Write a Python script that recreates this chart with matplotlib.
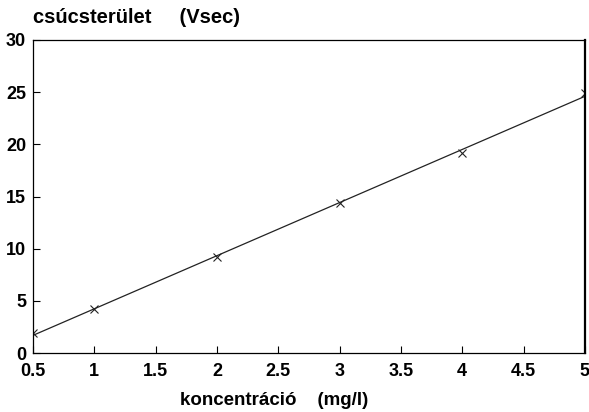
import matplotlib
matplotlib.use("Agg")
import matplotlib.pyplot as plt
import numpy as np

konc = [0.5, 1, 2, 3, 4, 5]
terulet = [1.9, 4.2, 9.2, 14.4, 19.2, 24.9]
xticks = [0.5, 1, 1.5, 2, 2.5, 3, 3.5, 4, 4.5, 5]
xticklabels = ["0.5", "1", "1.5", "2", "2.5", "3", "3.5", "4", "4.5", "5"]
yticks = [0, 5, 10, 15, 20, 25, 30]

plt.rcParams['font.family'] = ['Liberation Sans', 'DejaVu Sans']

fig = plt.figure(figsize=(5.89, 4.12), dpi=100)
ax = fig.add_axes([0.056, 0.143, 0.937, 0.76])

# calibration line (least squares through the points)
k, b = np.polyfit(konc, terulet, 1)
xs = np.array([konc[0], konc[-1]])
ax.plot(xs, k * xs + b, color="#222222", lw=0.9)
ax.plot(konc, terulet, linestyle="none", marker="x", markersize=6,
        markeredgewidth=0.8, color="#222222")

ax.set_xlim(0.5, 5)
ax.set_ylim(0, 30)
ax.set_xticks(xticks)
ax.set_xticklabels(xticklabels)
ax.set_yticks(yticks)
ax.tick_params(direction="in", length=5, width=0.8, labelsize=13)
ax.tick_params(axis="x", pad=7)
ax.tick_params(axis="y", pad=5)
for lab in ax.get_xticklabels() + ax.get_yticklabels():
    lab.set_fontweight("bold")

for s in ax.spines.values():
    s.set_linewidth(0.9)
ax.spines["right"].set_linewidth(1.6)

ax.set_xlabel("koncentráció    (mg/l)", fontsize=13.5, fontweight="bold")
ax.xaxis.set_label_coords(0.437, -0.125)
fig.text(0.056, 0.957, "csúcsterület     (Vsec)", fontsize=14.5, fontweight="bold",
         ha="left", va="center")

fig.savefig("out.png", dpi=100)
